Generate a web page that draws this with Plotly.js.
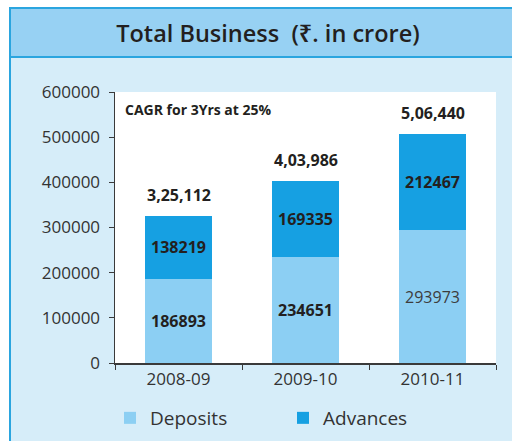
<!DOCTYPE html>
<html><head><meta charset="utf-8">
<script src="https://cdn.plot.ly/plotly-3.0.1.min.js"></script>
<style>html,body{margin:0;padding:0;background:#fff;}#chart{width:512px;height:441px;}</style>
</head><body><div id="chart"></div>
<script>
const years = ['2008-09', '2009-10', '2010-11'];
const deposits = [186893, 234651, 293973];
const advances = [138219, 169335, 212467];
const yTicks = [0, 100000, 200000, 300000, 400000, 500000, 600000];
const seriesNames = ['Deposits', 'Advances'];
const chartTitle = 'Total Business\u00A0\u00A0(\u20B9. in crore)';
const noteText = 'CAGR for 3Yrs at 25%';

function indian(n) {
  const s = String(n);
  if (s.length <= 3) return s;
  const last3 = s.slice(-3);
  const rest = s.slice(0, -3).replace(/\B(?=(\d{2})+(?!\d))/g, ',');
  return rest + ',' + last3;
}
const totals = deposits.map((d, i) => d + advances[i]);

const M = {l: 115, r: 16, t: 92, b: 78, autoexpand: false};
const W = 512 - M.l - M.r, H = 441 - M.t - M.b;
const px2x = px => (px - M.l) / W;
const py2y = py => (441 - M.b - py) / H;

const FONT = '"Open Sans", "Noto Sans", "DejaVu Sans", sans-serif';
const dark = '#231F20';

const traces = [
  {
    type: 'bar', name: seriesNames[0], x: years, y: deposits,
    marker: {color: '#8CCFF3'},
    text: deposits.map(String),
    texttemplate: deposits.map((v, i) => i === 2 ? '%{text}' : '<b>%{text}</b>'),
    textposition: 'inside', insidetextanchor: 'middle', textangle: 0,
    textfont: {family: FONT, size: 16, color: deposits.map((v, i) => i === 2 ? '#3c3c3c' : dark)},
    hoverinfo: 'none'
  },
  {
    type: 'bar', name: seriesNames[1], x: years, y: advances,
    marker: {color: '#16A0E2'},
    text: advances.map(String),
    texttemplate: '<b>%{text}</b>',
    textposition: 'inside', insidetextanchor: 'middle', textangle: 0,
    textfont: {family: FONT, size: 16, color: dark},
    hoverinfo: 'none'
  }
];

const annotations = years.map((yr, i) => ({
  x: yr, y: totals[i], xref: 'x', yref: 'y',
  text: '<b>' + indian(totals[i]) + '</b>', showarrow: false,
  yanchor: 'bottom', yshift: 8,
  font: {family: FONT, size: 16, color: dark}
}));
annotations.push({
  xref: 'paper', yref: 'paper', x: px2x(123), y: py2y(109),
  xanchor: 'left', yanchor: 'middle', showarrow: false,
  text: '<b>' + noteText + '</b>',
  font: {family: FONT, size: 14, color: dark}
});

const frameLine = {color: '#2AA5DF', width: 2};
const layout = {
  width: 512, height: 441,
  margin: M,
  paper_bgcolor: '#ffffff', plot_bgcolor: '#ffffff',
  barmode: 'stack', bargap: 0.48,
  font: {family: FONT, color: '#333333'},
  title: {
    text: chartTitle, xref: 'container', yref: 'container',
    x: 268 / 512, xanchor: 'center', y: 1 - 34 / 441, yanchor: 'middle',
    font: {family: FONT, size: 23.5, weight: 600, color: dark}
  },
  xaxis: {
    type: 'category', tickson: 'boundaries', ticks: 'outside', ticklen: 5,
    tickcolor: '#3a3a3a', showline: true, linecolor: '#3a3a3a', linewidth: 1.5,
    showgrid: false, tickfont: {family: FONT, size: 17, color: '#333333'},
    fixedrange: true
  },
  yaxis: {
    range: [0, 600000], tickvals: yTicks, ticktext: yTicks.map(String),
    ticks: 'outside', ticklen: 5, tickcolor: '#3a3a3a', ticklabelstandoff: 5,
    showline: true, linecolor: '#3a3a3a', linewidth: 1.5,
    showgrid: false, zeroline: false,
    tickfont: {family: FONT, size: 17, color: '#333333'},
    fixedrange: true
  },
  legend: {
    orientation: 'h', xref: 'paper', yref: 'paper',
    x: px2x(110), xanchor: 'left', y: py2y(418), yanchor: 'middle',
    font: {family: FONT, size: 19, color: '#333333'},
    bgcolor: 'rgba(0,0,0,0)', traceorder: 'normal',
    entrywidth: 128
  },
  shapes: [
    {type: 'rect', xref: 'paper', yref: 'paper', layer: 'below',
     x0: px2x(10), x1: px2x(540), y0: py2y(470), y1: py2y(8),
     fillcolor: '#D6EDF9', line: frameLine},
    {type: 'rect', xref: 'paper', yref: 'paper', layer: 'below',
     x0: px2x(10), x1: px2x(540), y0: py2y(57), y1: py2y(8),
     fillcolor: '#97D1F3', line: frameLine},
    {type: 'rect', xref: 'paper', yref: 'paper', layer: 'below',
     x0: 0, x1: 1, y0: 0, y1: py2y(92),
     fillcolor: '#ffffff', line: {width: 0}}
  ],
  annotations: annotations
};

Plotly.newPlot('chart', traces, layout, {displayModeBar: false, staticPlot: true});
</script>
</body></html>
